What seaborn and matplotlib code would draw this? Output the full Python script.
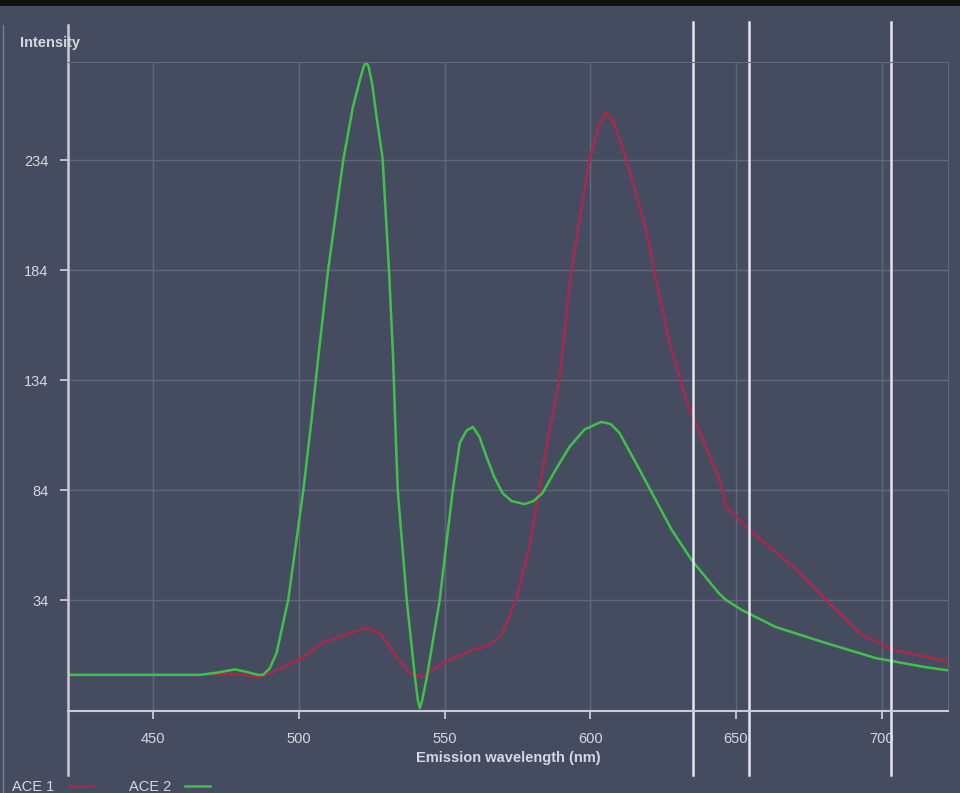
import pandas as pd
import seaborn as sns
import matplotlib.pyplot as plt
from matplotlib.lines import Line2D
from matplotlib.patches import Rectangle

# Emission spectra
ace1_nm = [421, 466, 478, 486, 491, 500, 508, 517.5, 522.6, 527.7, 533.6, 538, 542.5,
           549.3, 559.6, 565.4, 569.9, 574.7, 579.1, 582.5, 586, 589.4, 593.5, 599.7,
           603, 605.5, 608, 611, 614.4, 619.2, 622.6, 627, 632.9, 635.8, 644.4, 646.7,
           654.7, 669.6, 681, 692.4, 703.8, 715.3, 723]
ace1_int = [0, 0, 0.5, -1, 1.3, 6.7, 14.5, 19, 21.3, 19, 8, 0.8, -1,
            5.4, 11.3, 13.5, 19, 35, 58, 84, 111, 134, 184, 234,
            250, 255.4, 251, 240, 225, 202, 179.5, 152, 125, 115.8, 88.6, 76.4,
            65.8, 49.2, 34, 18.9, 11.3, 8.2, 6]

ace2_nm = [421, 466, 472, 478, 483, 486, 487.7, 490, 492.3, 496.3, 501.5, 504.3, 506.6,
           510.0, 515.2, 518.5, 520.9, 522.2, 523.0, 523.9, 525.2, 526.6, 528.7, 530.9,
           532.3, 532.9, 533.9, 537.0, 539.8, 540.8, 541.5, 542.3, 543.9, 548.3, 552.8,
           555.2, 557.5, 559.7, 562, 564.4, 567, 569.9, 573, 577.4, 580.5, 583.6, 588,
           592.8, 598, 603.8, 607, 610, 615.8, 621.2, 628, 634.9, 644.2, 646.6, 652,
           663.7, 680.8, 698, 715, 723]
ace2_int = [0, 0, 1, 2.5, 1, 0, 0, 3, 9.9, 34, 84, 115.8, 144,
            184, 234, 258, 270.3, 276.5, 278.5, 276.5, 268, 254, 234.8, 184,
            144.6, 120.4, 84, 34, -1, -11.5, -15.1, -11.5, -1, 34, 84,
            105.4, 111, 112.7, 108, 99, 90, 82.6, 79, 77.6, 79, 82.6, 93,
            103.5, 111.5, 115, 114, 110, 96, 82.6, 65.8, 52, 37, 34, 29.5,
            21.7, 14.5, 7.6, 3.5, 2]

series_names = ['ACE 1', 'ACE 2']
series_colors = ['#a8294d', '#3ec24a']

x_ticks = [450, 500, 550, 600, 650, 700]
y_ticks = [34, 84, 134, 184, 234]
marker_lines_nm = [635.2, 654.5, 703.3]

df = pd.concat([
    pd.DataFrame({'nm': ace1_nm, 'intensity': ace1_int, 'series': series_names[0]}),
    pd.DataFrame({'nm': ace2_nm, 'intensity': ace2_int, 'series': series_names[1]}),
])

bg = '#464c60'
grid_col = '#62687c'
axis_col = '#c9ccd6'
text_col = '#d6d8e0'

plt.rcParams['font.family'] = ['Liberation Sans', 'DejaVu Sans']

fig = plt.figure(figsize=(9.6, 7.93), dpi=100)
fig.patch.set_facecolor(bg)
ax = fig.add_axes([0.0708, 0.1038, 0.9167, 0.8184])
ax.set_facecolor(bg)

sns.lineplot(data=df, x='nm', y='intensity', hue='series', palette=series_colors,
             linewidth=1.8, legend=False, ax=ax, sort=False, solid_joinstyle='round')

ax.set_xlim(420.7, 722.8)
ax.set_ylim(-16.3, 278.7)
ax.set_xticks(x_ticks)
ax.set_yticks(y_ticks)
ax.grid(True, color=grid_col, linewidth=1)
ax.set_axisbelow(True)

for side in ['top', 'right']:
    ax.spines[side].set_color(grid_col)
ax.spines['left'].set_visible(False)
ax.spines['bottom'].set_color(axis_col)
ax.spines['bottom'].set_linewidth(1.5)

ax.tick_params(axis='both', colors=axis_col, labelcolor=text_col, labelsize=10.5,
               length=6, width=1.3, direction='out')
ax.tick_params(axis='x', pad=9)
ax.tick_params(axis='y', pad=8)

ax.set_xlabel('Emission wavelength (nm)', color=text_col, fontsize=10.5,
              fontweight='bold', labelpad=4)
ax.set_ylabel('')

# left axis line runs past the plot box, like the white marker lines
ax.plot([0, 0], [-0.099, 1.057], transform=ax.transAxes, color=axis_col,
        linewidth=1.8, clip_on=False)
for x in marker_lines_nm:
    ax.axvline(x, ymin=-0.099, ymax=1.061, color='#e4e6ee', linewidth=1.8, clip_on=False)

fig.text(20 / 960, 1 - 43 / 793, 'Intensity', color=text_col, fontsize=10.5,
         fontweight='bold', va='center', ha='left')

# black strip and faint frame line at the left edge
fig.patches.append(Rectangle((0, 1 - 6 / 793), 1, 6 / 793, transform=fig.transFigure,
                             facecolor='#121212', edgecolor='none'))
fig.lines.append(Line2D([3 / 960, 3 / 960], [0, 1 - 25 / 793], transform=fig.transFigure,
                        color='#7a8094', linewidth=1))

handles = [Line2D([0], [0], color=c, linewidth=1.8) for c in series_colors]
fig.legend(handles, series_names, loc='center left', bbox_to_anchor=(12 / 960, 6 / 793),
           ncol=2, frameon=False, markerfirst=False, fontsize=10.5, labelcolor=text_col,
           handlelength=1.7, handletextpad=1.0, columnspacing=2.4, borderpad=0,
           borderaxespad=0)

fig.savefig('out.png', dpi=100, facecolor=bg)
